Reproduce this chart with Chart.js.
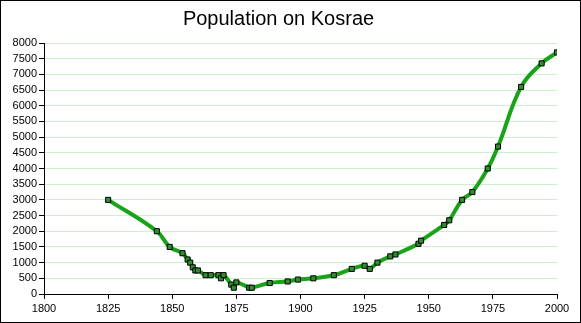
<!DOCTYPE html>
<html>
<script src="https://cdn.jsdelivr.net/npm/chart.js@4/dist/chart.umd.min.js"></script>
<body style="margin:0;background:#fff">

<canvas id="myChart" width="581" height="323"></canvas>

<script>

    const years = [1825, 1844, 1849, 1854, 1856, 1857, 1858, 1859, 1860, 1863, 1865, 1868, 1869, 1870,
                   1873, 1874, 1875, 1880, 1881, 1888, 1895, 1899, 1905, 1913, 1920, 1925, 1927, 1930,
                   1935, 1937, 1946, 1947, 1956, 1958, 1963, 1967, 1973, 1977, 1986, 1994, 2000];
    const population = [3000, 2000, 1500, 1300, 1100, 1000, 850, 750, 750, 600, 600, 600, 500, 600,
                        300, 200, 370, 200, 200, 350, 400, 460, 500, 600, 800, 900, 800, 1000,
                        1200, 1260, 1600, 1700, 2200, 2350, 3000, 3250, 4000, 4700, 6600, 7350, 7700];
    const xTicks = [1800, 1825, 1850, 1875, 1900, 1925, 1950, 1975, 2000];

    const points = years.map((y, i) => ({x: y, y: population[i]}));

    // black frame round the whole picture
    const frame = {
        id: "frame",
        afterDraw(c) {
            const ctx = c.ctx;
            ctx.save();
            ctx.strokeStyle = "#000";
            ctx.lineWidth = 1;
            ctx.strokeRect(0.5, 0.5, c.width - 1, c.height - 1);
            ctx.restore();
        }
    };

    const myChart = document.getElementById("myChart");
    const chart = new Chart(myChart, {
        type: "line",
        data: {
            datasets: [{
                data: points,
                borderColor: "#19a319",
                borderWidth: 4,
                tension: 0.4,
                pointStyle: "rect",
                pointRadius: 3.6,
                pointBackgroundColor: "#2f8f2f",
                pointBorderColor: "#000",
                pointBorderWidth: 1
            }]
        },
        options: {
            responsive: false,
            animation: false,
            layout: {padding: {left: 0, right: 24, top: 0, bottom: 0}},
            plugins: {
                legend: {display: false},
                tooltip: {enabled: false},
                title: {
                    display: true,
                    text: "Population on Kosrae",
                    color: "#000",
                    font: {family: "'Liberation Sans', Arial, sans-serif", size: 20, weight: "normal"},
                    padding: {top: 7, bottom: 12}
                }
            },
            scales: {
                x: {
                    type: "linear",
                    min: 1800,
                    max: 2000,
                    afterBuildTicks: s => { s.ticks = xTicks.map(v => ({value: v})); },
                    afterFit: s => { s.height = 29; },
                    ticks: {
                        color: "#000",
                        padding: 3,
                        maxRotation: 0,
                        autoSkip: false,
                        font: {family: "'Liberation Sans', Arial, sans-serif", size: 11},
                        callback: v => v
                    },
                    grid: {drawOnChartArea: false, tickLength: 5, tickColor: "#000"},
                    border: {color: "#000", width: 1}
                },
                y: {
                    min: 0,
                    max: 8000,
                    afterFit: s => { s.width = 44; },
                    ticks: {
                        stepSize: 500,
                        autoSkip: false,
                        color: "#000",
                        padding: 2,
                        font: {family: "'Liberation Sans', Arial, sans-serif", size: 11},
                        callback: v => v
                    },
                    grid: {color: "#ccf2cc", tickLength: 5, tickColor: "#000"},
                    border: {color: "#000", width: 1}
                }
            }
        },
        plugins: [frame]
    });

</script>

</body>
</html>
